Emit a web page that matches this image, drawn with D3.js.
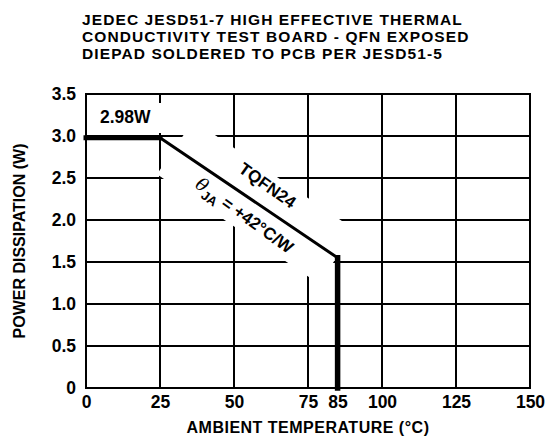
<!DOCTYPE html>
<html>
<head>
<meta charset="utf-8">
<script src="https://cdn.jsdelivr.net/npm/d3@7"></script>
<style>
  html, body { margin: 0; padding: 0; background: #fff; }
  svg { display: block; }
  text { font-family: "Liberation Sans", Arial, Helvetica, sans-serif; font-weight: bold; fill: #000; }
</style>
</head>
<body>
<svg id="chart" width="546" height="436"></svg>
<script>
// ---- data ----
const titleLines = [
  "JEDEC JESD51-7 HIGH EFFECTIVE THERMAL",
  "CONDUCTIVITY TEST BOARD - QFN EXPOSED",
  "DIEPAD SOLDERED TO PCB PER JESD51-5"
];
const xTicks = [0, 25, 50, 75, 85, 100, 125, 150];
const xTickLabels = ["0", "25", "50", "75", "85", "100", "125", "150"];
const yTicks = [0, 0.5, 1, 1.5, 2, 2.5, 3, 3.5];
const yTickLabels = ["0", "0.5", "1.0", "1.5", "2.0", "2.5", "3.0", "3.5"];
const gridX = [25, 50, 75, 100, 125];
const temps = [0, 25, 85, 85];          // ambient temperature (°C)
const power = [2.98, 2.98, 1.55, 0];    // power dissipation (W)
const xTitle = "AMBIENT TEMPERATURE (°C)";
const yTitle = "POWER DISSIPATION (W)";
const peakLabel = "2.98W";
const pkgLabel = "TQFN24";

// ---- layout ----
const svg = d3.select("#chart");
const L = 86, R = 530, T = 94, B = 388;
const x = d3.scaleLinear().domain([0, 150]).range([L, R]);
const y = d3.scaleLinear().domain([0, 3.5]).range([B, T]);

// title
svg.append("g").selectAll("text").data(titleLines).join("text")
  .attr("x", 82).attr("y", (d, i) => 24.5 + i * 17.3)
  .attr("font-size", 15.5).attr("letter-spacing", 1.1)
  .text(d => d);

// grid
const grid = svg.append("g").attr("stroke", "#000").attr("stroke-width", 2);
grid.selectAll("line.h").data(yTicks).join("line").attr("class", "h")
  .attr("x1", L).attr("x2", R).attr("y1", d => y(d)).attr("y2", d => y(d));
grid.selectAll("line.v").data(gridX).join("line").attr("class", "v")
  .attr("x1", d => x(d)).attr("x2", d => x(d)).attr("y1", T).attr("y2", B);

// white masks behind labels
const P0 = [x(temps[1]), y(power[1])], P1 = [x(temps[2]), y(power[2])];
const len = Math.hypot(P1[0] - P0[0], P1[1] - P0[1]);
const u = [(P1[0] - P0[0]) / len, (P1[1] - P0[1]) / len];
const n = [-u[1], u[0]];
const pt = (t, s) => [P0[0] + t * u[0] + s * n[0], P0[1] + t * u[1] + s * n[1]];
const band = [pt(18, -33), pt(len - 1, -33), pt(len - 1, 32), pt(18, 32)];
svg.append("polygon").attr("points", band.map(p => p.join(",")).join(" ")).attr("fill", "#fff");
svg.append("rect").attr("x", 94).attr("y", 103).attr("width", 76).attr("height", 30).attr("fill", "#fff");

// plot border
svg.append("rect").attr("x", L).attr("y", T).attr("width", R - L).attr("height", B - T)
  .attr("fill", "none").attr("stroke", "#000").attr("stroke-width", 2);

// axes tick labels
const xAxis = svg.append("g").attr("transform", `translate(0,${B})`)
  .call(d3.axisBottom(x).tickValues(xTicks).tickFormat((d, i) => xTickLabels[i]).tickSize(0).tickPadding(8));
xAxis.select(".domain").remove();
xAxis.attr("font-family", null).attr("font-size", null);
xAxis.selectAll("text").attr("font-size", 17.5).attr("fill", "#000");

const yAxis = svg.append("g").attr("transform", `translate(${L},0)`)
  .call(d3.axisLeft(y).tickValues(yTicks).tickFormat((d, i) => yTickLabels[i]).tickSize(0).tickPadding(10));
yAxis.select(".domain").remove();
yAxis.attr("font-family", null).attr("font-size", null);
yAxis.selectAll("text").attr("font-size", 17.5).attr("fill", "#000");

// axis titles
svg.append("text").attr("x", (L + R) / 2).attr("y", 433).attr("text-anchor", "middle")
  .attr("font-size", 16).attr("letter-spacing", 0.5).text(xTitle);
svg.append("text").attr("transform", `translate(25,${(T + B) / 2}) rotate(-90)`)
  .attr("text-anchor", "middle").attr("font-size", 16).text(yTitle);

// derating curve
const pts = temps.map((t, i) => [x(t), y(power[i])]);
const segW = [5, 3, 5.5];
const segCap = ["square", "round", "square"];
for (let i = 0; i < pts.length - 1; i++) {
  svg.append("line")
    .attr("x1", pts[i][0]).attr("y1", pts[i][1])
    .attr("x2", pts[i + 1][0]).attr("y2", pts[i + 1][1])
    .attr("stroke", "#000").attr("stroke-width", segW[i]).attr("stroke-linecap", segCap[i]);
}

// labels
svg.append("text").attr("x", x(0) + 14).attr("y", y(power[0]) - 15)
  .attr("font-size", 17.5).text(peakLabel);

const ang = Math.atan2(u[1], u[0]) * 180 / Math.PI + 1.5;
const c1 = pt(len * 0.54, -21);
svg.append("text").attr("transform", `translate(${c1[0]},${c1[1]}) rotate(${ang})`)
  .attr("text-anchor", "middle").attr("dy", "0.36em").attr("font-size", 17).text(pkgLabel);

const c2 = pt(len * 0.53, 17);
const th = svg.append("text").attr("transform", `translate(${c2[0]},${c2[1]}) rotate(${ang})`)
  .attr("text-anchor", "middle").attr("dy", "0.36em").attr("font-size", 17);
th.append("tspan").attr("font-family", "'DejaVu Serif', serif").attr("font-weight", "normal")
  .attr("font-style", "italic").attr("font-size", 18).text("θ");
th.append("tspan").attr("font-size", 13).attr("dy", 5).text("JA");
th.append("tspan").attr("dy", -5).text(" = +42°C/W");
</script>
</body>
</html>
